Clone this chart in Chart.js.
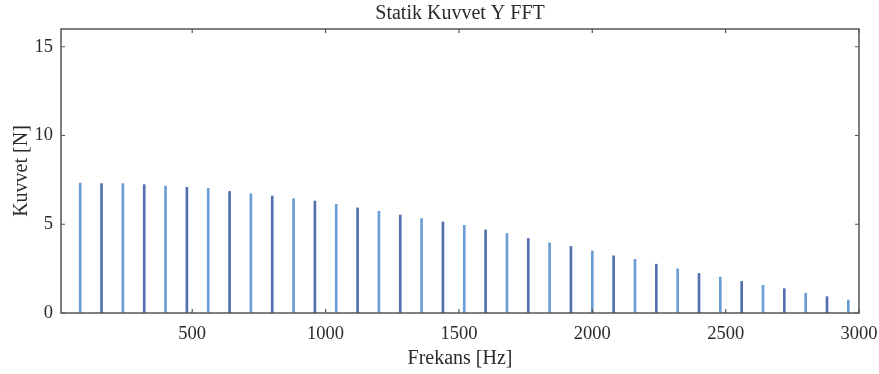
<!DOCTYPE html>
<html>
<head>
<meta charset="utf-8">
<script src="https://cdn.jsdelivr.net/npm/chart.js@4"></script>
<style>
html,body{margin:0;padding:0;background:#fff;}
#wrap{width:879px;height:374px;position:relative;}
</style>
</head>
<body>
<div id="wrap"><canvas id="c" width="879" height="374"></canvas></div>
<script>
// Data
const frequencies = [80,160,240,320,400,480,560,640,720,800,880,960,1040,1120,1200,1280,1360,1440,1520,1600,1680,1760,1840,1920,2000,2080,2160,2240,2320,2400,2480,2560,2640,2720,2800,2880,2960];
const forces = [7.32,7.29,7.29,7.23,7.15,7.08,7.02,6.85,6.72,6.59,6.44,6.31,6.12,5.92,5.73,5.52,5.32,5.13,4.94,4.68,4.48,4.20,3.95,3.75,3.50,3.22,3.02,2.75,2.49,2.23,2.02,1.78,1.56,1.37,1.11,0.92,0.73];
const xTicks = [500,1000,1500,2000,2500,3000];
const yTicks = [0,5,10,15];
const titleText = "Statik Kuvvet Y FFT";
const xLabel = "Frekans [Hz]";
const yLabel = "Kuvvet [N]";

const FONT = "'Liberation Serif', 'Times New Roman', serif";
const AXIS_COLOR = "#555555";
const TEXT_COLOR = "#2a2a2a";

const boxPlugin = {
  id: 'boxTicks',
  afterDraw(chart) {
    const {ctx, chartArea: a, scales} = chart;
    ctx.save();
    ctx.strokeStyle = AXIS_COLOR;
    ctx.lineWidth = 1.5;
    ctx.strokeRect(a.left, a.top, a.right - a.left, a.bottom - a.top);
    ctx.lineWidth = 1.2;
    const L = 4;
    ctx.beginPath();
    xTicks.forEach(v => {
      const px = scales.x.getPixelForValue(v);
      ctx.moveTo(px, a.bottom); ctx.lineTo(px, a.bottom - L);
      ctx.moveTo(px, a.top); ctx.lineTo(px, a.top + L);
    });
    yTicks.forEach(v => {
      const py = scales.y.getPixelForValue(v);
      ctx.moveTo(a.left, py); ctx.lineTo(a.left + L, py);
      ctx.moveTo(a.right, py); ctx.lineTo(a.right - L, py);
    });
    ctx.stroke();
    ctx.restore();
  }
};

new Chart(document.getElementById('c'), {
  type: 'bar',
  data: {
    datasets: [{
      data: frequencies.map((f, i) => ({x: f, y: forces[i]})),
      backgroundColor: (c) => (c.dataIndex % 2 === 0 ? '#6a9dd4' : '#5470ae'),
      barThickness: 2,
      borderWidth: 0
    }]
  },
  options: {
    responsive: false,
    animation: false,
    devicePixelRatio: 1,
    layout: {padding: {left: 0, right: 20, top: 0, bottom: 0}},
    plugins: {
      legend: {display: false},
      tooltip: {enabled: false},
      title: {
        display: true,
        fullSize: false,
        text: titleText,
        color: TEXT_COLOR,
        font: {family: FONT, size: 20, weight: 'normal'},
        padding: {top: 2, bottom: 3}
      }
    },
    scales: {
      x: {
        type: 'linear',
        min: 8,
        max: 3000,
        offset: false,
        grid: {display: false, drawTicks: false, tickLength: 0},
        border: {display: false},
        afterBuildTicks: (s) => { s.ticks = xTicks.map(v => ({value: v})); },
        afterFit: (s) => { s.height = 61; s.paddingLeft = 0; s.paddingRight = 0; },
        ticks: {
          color: TEXT_COLOR,
          font: {family: FONT, size: 18.5},
          padding: 10,
          maxRotation: 0,
          autoSkip: false,
          callback: (v) => String(v)
        },
        title: {
          display: true,
          text: xLabel,
          color: TEXT_COLOR,
          font: {family: FONT, size: 20},
          padding: {top: 0, bottom: 3}
        }
      },
      y: {
        min: 0,
        max: 16,
        grid: {display: false, drawTicks: false, tickLength: 0},
        border: {display: false},
        afterBuildTicks: (s) => { s.ticks = yTicks.map(v => ({value: v})); },
        afterFit: (s) => { s.width = 61; },
        ticks: {
          color: TEXT_COLOR,
          font: {family: FONT, size: 18.5},
          padding: 8,
          callback: (v) => String(v)
        },
        title: {
          display: true,
          text: yLabel,
          color: TEXT_COLOR,
          font: {family: FONT, size: 20},
          padding: {top: 10, bottom: 0}
        }
      }
    }
  },
  plugins: [boxPlugin]
});
</script>
</body>
</html>
